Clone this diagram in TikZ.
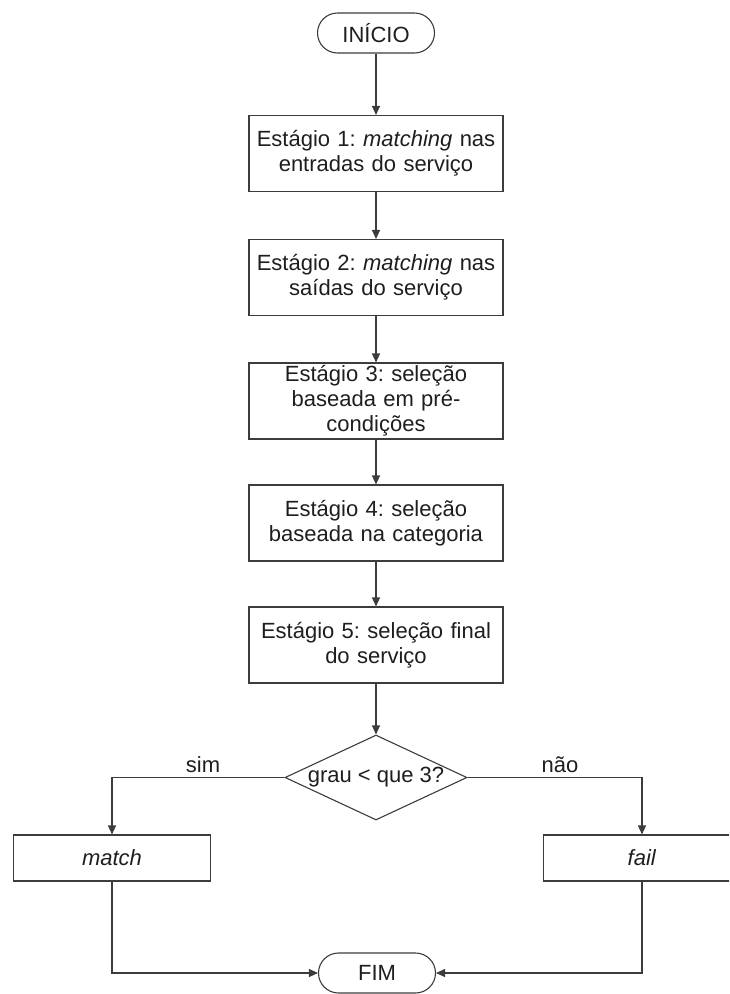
\documentclass[tikz,border=0pt]{standalone}
\usepackage{fontspec}
\setmainfont{Liberation Sans}
\usetikzlibrary{arrows.meta,shapes.geometric}
\frenchspacing

\definecolor{edgecol}{HTML}{3C3C3C}
\definecolor{txtcol}{HTML}{1E1E1E}

\tikzset{
  every node/.style={text=txtcol, font=\fontsize{22pt}{25pt}\selectfont},
  terminal/.style={draw=edgecol, line width=1.1pt, rectangle, rounded corners=20pt,
    minimum width=117pt, minimum height=40pt, inner sep=0pt},
  stagebox/.style={draw=edgecol, line width=1.1pt, rectangle, text width=254pt,
    minimum height=76pt, inner sep=0pt, align=center},
  resultbox/.style={draw=edgecol, line width=1.1pt, rectangle, minimum width=197pt,
    minimum height=46pt, inner sep=0pt},
  decision/.style={draw=edgecol, line width=1.1pt, diamond, minimum width=182pt,
    minimum height=85pt, inner sep=0pt},
  flow/.style={draw=edgecol, line width=1.1pt, -{Triangle[length=9pt,width=8pt]}},
  branchlabel/.style={anchor=base, inner sep=0pt}
}

\begin{document}
\begin{tikzpicture}[x=1pt, y=-1pt]
  \path[use as bounding box, clip] (0,0) rectangle (729,994);

  % start and end terminals
  \node[terminal] (start) at (376,33) {INÍCIO};
  \node[terminal] (stop) at (377,973) {FIM};

  % the five stages
  \node[stagebox] (s1) at (376,153.5) {Estágio 1: \textit{matching} nas\\entradas do serviço};
  \node[stagebox] (s2) at (376,277.5) {Estágio 2: \textit{matching} nas\\saídas do serviço};
  \node[stagebox] (s3) at (376,401) {Estágio 3: seleção\\baseada em pré-\\condições};
  \node[stagebox] (s4) at (376,523) {Estágio 4: seleção\\baseada na categoria};
  \node[stagebox] (s5) at (376,645) {Estágio 5: seleção final\\do serviço};

  % decision
  \node[decision] (dec) at (376,777.5) {\makebox[0pt]{grau < que 3?}};

  % outcomes
  \node[resultbox] (match) at (112,858) {\textit{match}};
  \node[resultbox] (fail) at (642,858) {\textit{fail}};

  % main sequence
  \draw[flow] (start) -- (s1);
  \draw[flow] (s1) -- (s2);
  \draw[flow] (s2) -- (s3);
  \draw[flow] (s3) -- (s4);
  \draw[flow] (s4) -- (s5);
  \draw[flow] (s5) -- (dec);

  % branches
  \draw[flow] (dec.west) -| (match.north);
  \draw[flow] (dec.east) -| (fail.north);
  \node[branchlabel] (yes) at (203,772) {sim};
  \node[branchlabel] (no) at (560,772) {não};

  % merge into the end terminal
  \draw[flow] (match.south) |- (stop.west);
  \draw[flow] (fail.south) |- (stop.east);
\end{tikzpicture}
\end{document}
